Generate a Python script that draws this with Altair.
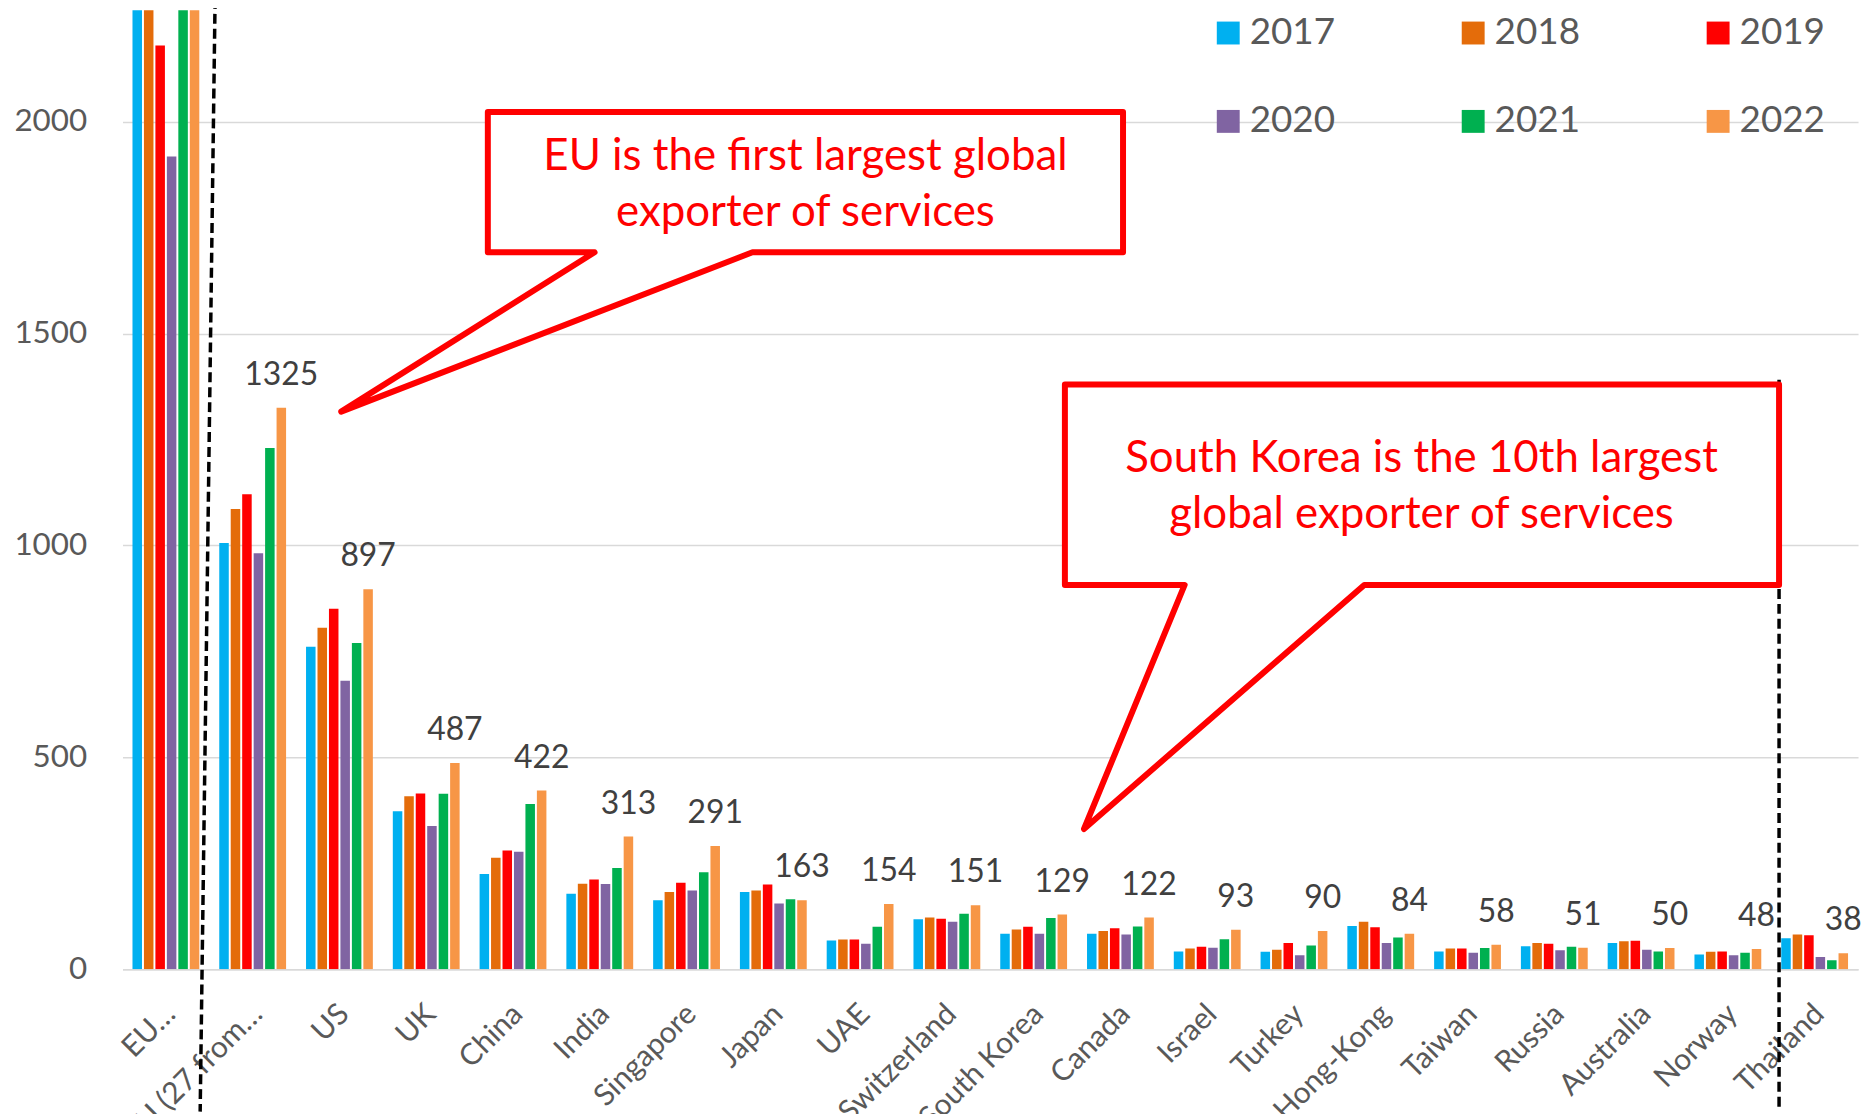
import altair as alt
import pandas as pd

countries = ["EU…", "EU (27 from…", "US", "UK", "China", "India", "Singapore", "Japan", "UAE",
             "Switzerland", "South Korea", "Canada", "Israel", "Turkey", "Hong-Kong", "Taiwan",
             "Russia", "Australia", "Norway", "Thailand"]
years = ["2017", "2018", "2019", "2020", "2021", "2022"]
colors = ["#00B0F0", "#E46C0A", "#FF0000", "#8064A2", "#00B050", "#F79646"]

v2017 = [2350, 1006, 761, 373, 225, 178, 163, 182, 68, 118, 84, 84, 42, 41, 102, 42, 54, 62, 35, 73]
v2018 = [2480, 1086, 806, 408, 263, 202, 182, 186, 70, 122, 94, 90, 49, 46, 112, 49, 62, 66, 41, 82]
v2019 = [2180, 1121, 851, 415, 280, 212, 204, 200, 70, 119, 100, 97, 53, 62, 99, 49, 60, 67, 42, 80]
v2020 = [1918, 982, 681, 338, 277, 201, 186, 155, 60, 112, 84, 82, 51, 33, 62, 39, 45, 46, 33, 29]
v2021 = [2400, 1230, 770, 414, 390, 239, 229, 165, 100, 131, 121, 101, 71, 56, 75, 50, 53, 42, 39, 21]
v2022 = [2700, 1325, 897, 487, 422, 313, 291, 163, 154, 151, 129, 122, 93, 90, 84, 58, 51, 50, 48, 38]

# annotation geometry in data units (x = category index 0..20, y = value)
callout_shape = [1, 1, 1, 1, 1, 1, 1, 2, 2, 2, 2, 2, 2, 2]
callout_x = [4.21, 11.53, 11.53, 7.26, 2.52, 5.44, 4.21,
             10.86, 19.09, 19.09, 14.31, 11.08, 12.24, 10.86]
callout_y = [2023, 2023, 1692, 1692, 1316, 1692, 1692,
             1380, 1380, 907, 907, 331, 907, 907]
callout_text = ["EU is the first largest global", "exporter of services",
                "South Korea is the 10th largest", "global exporter of services"]
callout_text_x = [7.87, 7.87, 14.97, 14.97]
callout_text_y = [1887, 1753, 1173, 1041]
sep_x = [1.067, 19.09]
sep_y = [2290, 1391]
sep_x2 = [0.895, 19.09]
sep_y2 = [-336, -336]

YMAX = 2263
FONT = "Lato"

rows = []
for yr, vals in zip(years, [v2017, v2018, v2019, v2020, v2021, v2022]):
    for c, v in zip(countries, vals):
        rows.append({"country": c, "year": yr, "value": v})
df = pd.DataFrame(rows)
lab_df = pd.DataFrame({"country": countries, "year": "2022", "value": v2022,
                       "label": [str(v) for v in v2022]})
poly_df = pd.DataFrame({"shape": callout_shape, "idx": callout_x, "val": callout_y,
                        "ord": list(range(len(callout_x)))})
txt_df = pd.DataFrame({"idx": callout_text_x, "val": callout_text_y, "text": callout_text})
sep_df = pd.DataFrame({"idx": sep_x, "val": sep_y, "idx2": sep_x2, "val2": sep_y2})

yscale = alt.Scale(domain=[0, YMAX], nice=False, zero=True)
xband = alt.Scale(paddingInner=0.23, paddingOuter=0.115)
xoff = alt.Scale(domain=years, paddingInner=0.17, paddingOuter=0)

xaxis = alt.Axis(labelAngle=-45, labelAlign="right", labelBaseline="middle",
                 labelFont=FONT, labelFontSize=30, labelColor="#595959",
                 labelPadding=40, labelOffset=5, ticks=False, domainColor="#D9D9D9",
                 domainWidth=1.5, labelLimit=0, grid=False, title=None)
yaxis = alt.Axis(values=[0, 500, 1000, 1500, 2000], format="d", labelFont=FONT,
                 labelFontSize=31.5, labelColor="#595959", labelPadding=36, ticks=False,
                 domain=False, gridColor="#D9D9D9", gridWidth=1.5, title=None)

bars = alt.Chart(df).mark_bar(clip=True).encode(
    x=alt.X("country:N", sort=countries, scale=xband, axis=xaxis),
    xOffset=alt.XOffset("year:N", scale=xoff),
    y=alt.Y("value:Q", scale=yscale, axis=yaxis),
    color=alt.Color("year:N", scale=alt.Scale(domain=years, range=colors),
                    legend=alt.Legend(title=None, orient="none", legendX=1092, legendY=4,
                                      direction="horizontal", columns=3, symbolType="square",
                                      symbolSize=529, symbolStrokeWidth=0, labelFont=FONT,
                                      labelFontSize=37, labelColor="#595959", labelOffset=3,
                                      columnPadding=120, rowPadding=51, padding=0)),
)

labels = alt.Chart(lab_df).transform_filter(
    alt.datum.value < YMAX
).mark_text(font=FONT, fontSize=32, color="#404040",
            baseline="middle", align="center", dy=-33).encode(
    x=alt.X("country:N", sort=countries, scale=xband, axis=xaxis),
    xOffset=alt.XOffset("year:N", scale=xoff),
    y=alt.Y("value:Q", scale=yscale, axis=yaxis),
    text="label:N",
)

xq = alt.Scale(domain=[0, 20], nice=False, zero=False)

seps = alt.Chart(sep_df).mark_rule(color="black", strokeWidth=3.5, strokeDash=[10, 5]).encode(
    x=alt.X("idx:Q", scale=xq, axis=None), x2="idx2:Q",
    y=alt.Y("val:Q", scale=yscale, axis=yaxis), y2="val2:Q",
)

shapes = alt.Chart(poly_df).mark_line(interpolate="linear-closed", stroke="#FF0000",
                                      strokeWidth=6, fill="white", strokeJoin="round").encode(
    x=alt.X("idx:Q", scale=xq, axis=None),
    y=alt.Y("val:Q", scale=yscale, axis=yaxis),
    detail="shape:N",
    order="ord:Q",
)

ctext = alt.Chart(txt_df).mark_text(font=FONT, fontSize=44, color="#FF0000", align="center",
                                    baseline="alphabetic").encode(
    x=alt.X("idx:Q", scale=xq, axis=None),
    y=alt.Y("val:Q", scale=yscale, axis=yaxis),
    text="text:N",
)

chart = alt.layer(
    alt.layer(bars, labels),
    alt.layer(seps, shapes, ctext),
).resolve_scale(x="independent").properties(
    width=1743, height=963,
    autosize=alt.AutoSizeParams(type="none"),
    padding={"left": 115, "top": 0, "right": 6, "bottom": 143},
).configure_view(stroke=None)

chart.save("out.html", embed_options={"renderer": "svg", "actions": False})
